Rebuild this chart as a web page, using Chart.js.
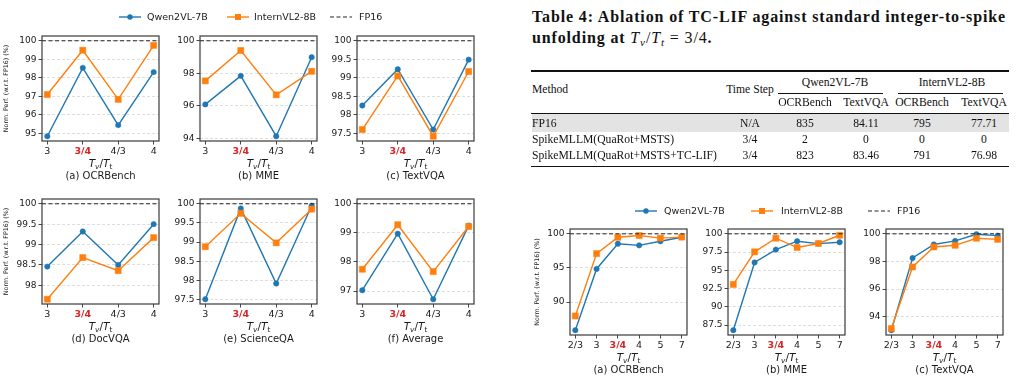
<!DOCTYPE html>
<html><head><meta charset="utf-8">
<script src="https://cdn.jsdelivr.net/npm/chart.js@4.4.1/dist/chart.umd.min.js"></script>
<style>
html,body{margin:0;padding:0;background:#fff;}
#fig{position:relative;width:1016px;height:377px;overflow:hidden;background:#fff;font-family:"DejaVu Sans",sans-serif;color:#1a1a1a;}
#fig canvas{position:absolute;}
.lbl{position:absolute;white-space:nowrap;transform:translate(-50%,-50%);line-height:1;}
.xt{font-size:10.5px;}
.xt sub{font-size:70%;vertical-align:-0.35em;line-height:0;}
.cap{font-size:10px;}
.leg{position:absolute;font-size:9.5px;line-height:1;transform:translateY(-50%);white-space:nowrap;}
.legm{position:absolute;transform:translateY(-50%);}
.ser{position:absolute;white-space:nowrap;font-family:"Liberation Serif","DejaVu Serif",serif;color:#111 !important;line-height:1;}
.tc{transform:translate(-50%,-50%);}
.tl{transform:translateY(-50%);}
.ttl{font-weight:bold;font-size:16px;transform:translateY(-50%);}
.ttl .m{font-weight:normal;}
.ttl sub{font-size:70%;vertical-align:-0.3em;line-height:0;}
.rule{position:absolute;background:#111;}
</style>
</head><body>
<div id="fig"></div>
<script>
// ---------------- data ----------------
const catsMain = ['3', '3/4', '4/3', '4'];
const catsSweep = ['2/3', '3', '3/4', '4', '5', '7'];
const highlightCat = '3/4';
const seriesNames = ['Qwen2VL-7B', 'InternVL2-8B', 'FP16'];
const fp16Ref = 100;

const ocrQwen = [94.85, 98.54, 95.45, 98.31];
const ocrIntern = [97.10, 99.49, 96.84, 99.75];
const mmeQwen = [96.08, 97.84, 94.12, 98.99];
const mmeIntern = [97.53, 99.40, 96.67, 98.12];
const tvqaQwen = [98.25, 99.23, 97.60, 99.49];
const tvqaIntern = [97.60, 99.05, 97.42, 99.17];
const docQwen = [98.46, 99.32, 98.50, 99.50];
const docIntern = [97.66, 98.68, 98.36, 99.17];
const sqaQwen = [97.51, 99.88, 97.92, 99.95];
const sqaIntern = [98.88, 99.75, 98.98, 99.86];
const avgQwen = [97.03, 98.97, 96.72, 99.25];
const avgIntern = [97.75, 99.28, 97.67, 99.22];

const ocrSweepQwen = [85.88, 94.85, 98.54, 98.31, 98.92, 99.50];
const ocrSweepIntern = [87.96, 97.10, 99.49, 99.75, 99.37, 99.52];
const mmeSweepQwen = [86.80, 96.08, 97.84, 98.99, 98.66, 98.85];
const mmeSweepIntern = [93.07, 97.53, 99.40, 98.12, 98.68, 99.80];
const tvqaSweepQwen = [93.03, 98.25, 99.23, 99.49, 99.97, 99.87];
const tvqaSweepIntern = [93.15, 97.60, 99.05, 99.17, 99.68, 99.60];

const yTicksOcr = [95, 96, 97, 98, 99, 100];
const yTicksMme = [94, 96, 98, 100];
const yTicksTvqa = [97.5, 98, 98.5, 99, 99.5, 100];
const yTicksDoc = [98, 98.5, 99, 99.5, 100];
const yTicksSqa = [97.5, 98, 98.5, 99, 99.5, 100];
const yTicksAvg = [97, 98, 99, 100];
const yTicksOcrSweep = [90, 95, 100];
const yTicksMmeSweep = [87.5, 90, 92.5, 95, 97.5, 100];
const yTicksTvqaSweep = [94, 96, 98, 100];

const yTitle = 'Norm. Perf. (w.r.t. FP16) (%)';

const tableTitle1 = 'Table 4: Ablation of TC-LIF against standard integer-to-spike';
const tableGroups = ['Qwen2VL-7B', 'InternVL2-8B'];
const tableSubCols = ['OCRBench', 'TextVQA', 'OCRBench', 'TextVQA'];
const tableMethods = ['FP16', 'SpikeMLLM(QuaRot+MSTS)', 'SpikeMLLM(QuaRot+MSTS+TC-LIF)'];
const tableSteps = ['N/A', '3/4', '3/4'];
const tableQwenOcr = ['835', '2', '823'];
const tableQwenTvqa = ['84.11', '0', '83.46'];
const tableInternOcr = ['795', '0', '791'];
const tableInternTvqa = ['77.71', '0', '76.98'];

// ---------------- layout ----------------
const BLUE = '#1f77b4', ORANGE = '#ff7f0e', RED = '#d62728';
const FONT = '"DejaVu Sans", sans-serif';
const YW = 42, PT = 8, PR = 8, XH = 24;
const fig = document.getElementById('fig');

const panels = [
  {cats: catsMain, q: ocrQwen, i: ocrIntern, ticks: yTicksOcr, box: [42, 36, 117, 105], yt: 6.3, cap: '(a) OCRBench'},
  {cats: catsMain, q: mmeQwen, i: mmeIntern, ticks: yTicksMme, box: [200, 36, 117, 105], cap: '(b) MME'},
  {cats: catsMain, q: tvqaQwen, i: tvqaIntern, ticks: yTicksTvqa, box: [357, 36, 117, 105], cap: '(c) TextVQA'},
  {cats: catsMain, q: docQwen, i: docIntern, ticks: yTicksDoc, box: [42, 199, 117, 105], yt: 6.3, cap: '(d) DocVQA'},
  {cats: catsMain, q: sqaQwen, i: sqaIntern, ticks: yTicksSqa, box: [200, 199, 117, 105], cap: '(e) ScienceQA'},
  {cats: catsMain, q: avgQwen, i: avgIntern, ticks: yTicksAvg, box: [357, 199, 117, 105], cap: '(f) Average'},
  {cats: catsSweep, q: ocrSweepQwen, i: ocrSweepIntern, ticks: yTicksOcrSweep, box: [570, 229, 117, 106], yt: 9.5, cap: '(a) OCRBench'},
  {cats: catsSweep, q: mmeSweepQwen, i: mmeSweepIntern, ticks: yTicksMmeSweep, box: [728, 229, 117, 106], cap: '(b) MME'},
  {cats: catsSweep, q: tvqaSweepQwen, i: tvqaSweepIntern, ticks: yTicksTvqaSweep, box: [886, 229, 117, 106], cap: '(c) TextVQA'}
];

const framePlugin = {
  id: 'frame',
  afterDatasetsDraw(ch) {
    const {ctx, chartArea: a} = ch;
    ctx.save();
    ctx.strokeStyle = '#3a3a3a';
    ctx.lineWidth = 1.2;
    ctx.strokeRect(a.left, a.top, a.right - a.left, a.bottom - a.top);
    ctx.restore();
  }
};

function fmt(v) { return String(+v.toFixed(2)); }

function addLabel(html, cls, x, y) {
  const d = document.createElement('div');
  d.className = 'lbl ' + cls;
  d.innerHTML = html;
  d.style.left = x + 'px';
  d.style.top = y + 'px';
  fig.appendChild(d);
  return d;
}

panels.forEach(p => {
  const [L, T, W, H] = p.box;
  const cv = document.createElement('canvas');
  const cw = YW + W + PR, chh = PT + H + XH;
  cv.width = cw; cv.height = chh;
  cv.style.left = (L - YW) + 'px';
  cv.style.top = (T - PT) + 'px';
  cv.style.width = cw + 'px';
  cv.style.height = chh + 'px';
  fig.appendChild(cv);
  const n = p.cats.length;
  const xmin = -0.05 * (n - 1), xmax = (n - 1) * 1.05;
  const all = p.q.concat(p.i, [fp16Ref]);
  const lo = Math.min(...all), hi = Math.max(...all), r = hi - lo;
  const ymin = lo - 0.05 * r, ymax = hi + 0.05 * r;
  new Chart(cv, {
    type: 'line',
    data: {
      datasets: [
        {label: seriesNames[0], data: p.q.map((v, k) => ({x: k, y: v})), borderColor: BLUE, backgroundColor: BLUE,
         pointBackgroundColor: BLUE, pointBorderColor: BLUE, pointStyle: 'circle', pointRadius: 2.7, pointBorderWidth: 0.5,
         borderWidth: 1.4, tension: 0, clip: false, order: 2},
        {label: seriesNames[1], data: p.i.map((v, k) => ({x: k, y: v})), borderColor: ORANGE, backgroundColor: ORANGE,
         pointBackgroundColor: ORANGE, pointBorderColor: ORANGE, pointStyle: 'rect', pointRadius: 4.3, pointBorderWidth: 0.5,
         borderWidth: 1.4, tension: 0, clip: false, order: 1},
        {label: seriesNames[2], data: [{x: xmin, y: fp16Ref}, {x: xmax, y: fp16Ref}], borderColor: '#222',
         borderDash: [4, 2.5], borderWidth: 1, pointRadius: 0, clip: false, order: 0}
      ]
    },
    options: {
      responsive: false, animation: false, devicePixelRatio: 1,
      layout: {padding: {top: PT, right: PR, left: 0, bottom: 0}},
      plugins: {legend: {display: false}, tooltip: {enabled: false}},
      scales: {
        x: {
          type: 'linear', min: xmin, max: xmax, bounds: 'data',
          afterBuildTicks: s => { s.ticks = p.cats.map((c, k) => ({value: k})); },
          afterFit: s => { s.height = XH; },
          ticks: {
            callback: v => p.cats[v],
            autoSkip: false, maxRotation: 0, padding: 1,
            font: ctx => ({family: FONT, size: 9.5, weight: (ctx.tick && p.cats[ctx.tick.value] === highlightCat) ? 'bold' : 'normal'}),
            color: ctx => (ctx.tick && p.cats[ctx.tick.value] === highlightCat) ? RED : '#1a1a1a'
          },
          grid: {drawOnChartArea: false, drawTicks: true, tickLength: 3.5, tickColor: '#333', tickWidth: 0.9},
          border: {display: false}
        },
        y: {
          type: 'linear', min: ymin, max: ymax, bounds: 'data',
          afterBuildTicks: s => { s.ticks = p.ticks.map(v => ({value: v})); },
          afterFit: s => { s.width = YW; },
          ticks: {callback: v => fmt(v), font: {family: FONT, size: 9}, color: '#1a1a1a', padding: 2},
          grid: {color: '#d6d6d6', lineWidth: 0.8, drawTicks: true, tickLength: 3.5, tickColor: '#333', tickWidth: 0.9, tickBorderDash: []},
          border: {display: false, dash: [3, 2]},
          title: {display: !!p.yt, text: yTitle, font: {family: FONT, size: 6.3}, color: '#1a1a1a', padding: {top: (p.yt || 6) - 3.8, bottom: 0}}
        }
      }
    },
    plugins: [framePlugin]
  });
  const cx = L + W / 2;
  addLabel('<i>T</i><sub><i>v</i></sub>/<i>T</i><sub>t</sub>', 'xt', cx, T + H + 22);
  addLabel(p.cap, 'cap', cx, T + H + 35);
});

// ---------------- legends ----------------
function legendMarker(x, y, color, shape, dashed) {
  const ns = 'http://www.w3.org/2000/svg';
  const svg = document.createElementNS(ns, 'svg');
  svg.setAttribute('width', 22); svg.setAttribute('height', 10);
  svg.setAttribute('class', 'legm');
  svg.style.left = x + 'px'; svg.style.top = y + 'px';
  const ln = document.createElementNS(ns, 'line');
  ln.setAttribute('x1', 0); ln.setAttribute('x2', 22); ln.setAttribute('y1', 5); ln.setAttribute('y2', 5);
  ln.setAttribute('stroke', color); ln.setAttribute('stroke-width', dashed ? 1 : 1.4);
  if (dashed) ln.setAttribute('stroke-dasharray', '4 2.5');
  svg.appendChild(ln);
  if (shape === 'circle') {
    const c = document.createElementNS(ns, 'circle');
    c.setAttribute('cx', 11); c.setAttribute('cy', 5); c.setAttribute('r', 2.7); c.setAttribute('fill', color);
    svg.appendChild(c);
  } else if (shape === 'rect') {
    const rc = document.createElementNS(ns, 'rect');
    rc.setAttribute('x', 8); rc.setAttribute('y', 2); rc.setAttribute('width', 6); rc.setAttribute('height', 6); rc.setAttribute('fill', color);
    svg.appendChild(rc);
  }
  fig.appendChild(svg);
}
function legendText(t, x, y) {
  const d = document.createElement('div');
  d.className = 'leg'; d.textContent = t;
  d.style.left = x + 'px'; d.style.top = y + 'px';
  fig.appendChild(d);
}
const legendSets = [
  {y: 17, xs: [119, 227, 330], tx: [147, 254, 359]},
  {y: 211, xs: [635, 751, 868], tx: [664, 781, 897]}
];
const legendStyles = [[BLUE, 'circle', false], [ORANGE, 'rect', false], ['#222', null, true]];
legendSets.forEach(ls => {
  seriesNames.forEach((nm, k) => {
    legendMarker(ls.xs[k], ls.y, ...legendStyles[k]);
    legendText(nm, ls.tx[k], ls.y);
  });
});

// ---------------- table ----------------
function ser(html, cls, x, y) {
  const d = document.createElement('div');
  d.className = 'ser ' + cls;
  d.innerHTML = html;
  d.style.left = x + 'px'; d.style.top = y + 'px';
  fig.appendChild(d);
  return d;
}
function rule(x1, x2, y, h) {
  const d = document.createElement('div');
  d.className = 'rule';
  d.style.left = x1 + 'px'; d.style.width = (x2 - x1) + 'px';
  d.style.top = (y - h / 2) + 'px'; d.style.height = h + 'px';
  fig.appendChild(d);
}
// gray band behind FP16 row
const band = document.createElement('div');
band.style.cssText = 'position:absolute;left:532px;width:477px;top:113px;height:19px;background:#e3e3e3;';
fig.appendChild(band);

const t1 = ser(tableTitle1, 'ttl', 532, 17);
const t2 = ser('unfolding at <span class="m"><i>T</i><sub><i>v</i></sub>/<i>T</i><sub><i>t</i></sub> = 3/4</span>.', 'ttl', 532, 38);
// fit title width with letter spacing at a fixed size
(function () {
  const w = t1.getBoundingClientRect().width;
  const ls = (474 - w) / tableTitle1.length;
  t1.style.letterSpacing = ls + 'px';
  t2.style.letterSpacing = ls + 'px';
})();

rule(531, 1009, 71, 1.3);
rule(778, 883, 93.5, 0.7);
rule(898, 1003, 93.5, 0.7);
rule(531, 1009, 113, 0.8);
rule(531, 1009, 166.5, 1.3);

const cells = [];
cells.push(ser('Method', 'tl', 532, 90));
cells.push(ser('Time Step', 'tc', 750, 90));
cells.push(ser(tableGroups[0], 'tc', 835, 83));
cells.push(ser(tableGroups[1], 'tc', 952, 83));
const colX = [805, 866, 922, 984];
tableSubCols.forEach((c, k) => cells.push(ser(c, 'tc', colX[k], 103)));
const rowY = [124, 140, 155.7];
const valueCols = [tableQwenOcr, tableQwenTvqa, tableInternOcr, tableInternTvqa];
let longest = null;
tableMethods.forEach((m, r) => {
  const el = ser(m, 'tl', 532, rowY[r]);
  cells.push(el);
  if (r === 2) longest = el;
  cells.push(ser(tableSteps[r], 'tc', 750, rowY[r]));
  valueCols.forEach((col, k) => cells.push(ser(col[r], 'tc', colX[k], rowY[r])));
});
(function () {
  longest.style.fontSize = '12px';
  const w = longest.getBoundingClientRect().width;
  const fs = 12 * 185 / w;
  cells.forEach(c => { c.style.fontSize = fs + 'px'; });
})();
</script>
</body></html>
